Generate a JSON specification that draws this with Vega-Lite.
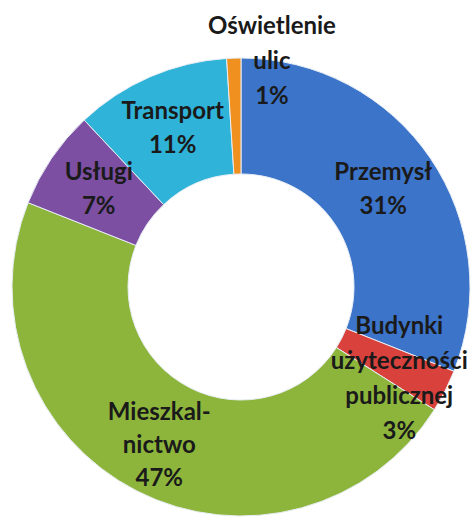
{
  "$schema": "https://vega.github.io/schema/vega-lite/v6.json",
  "width": 458,
  "height": 458,
  "autosize": {"type": "none"},
  "padding": {"left": 12, "top": 58, "right": 3, "bottom": 9},
  "background": "#ffffff",
  "view": {"stroke": null},
  "data": {
    "values": [
      {"kategoria": "Przemysł", "etykieta": "Przemysł\n31%", "udzial": 31, "kolejnosc": 1},
      {"kategoria": "Budynki użyteczności publicznej", "etykieta": "Budynki\nużyteczności\npublicznej\n3%", "udzial": 3, "kolejnosc": 2},
      {"kategoria": "Mieszkalnictwo", "etykieta": "Mieszkal-\nnictwo\n47%", "udzial": 47, "kolejnosc": 3},
      {"kategoria": "Usługi", "etykieta": "Usługi\n7%", "udzial": 7, "kolejnosc": 4},
      {"kategoria": "Transport", "etykieta": "Transport\n11%", "udzial": 11, "kolejnosc": 5},
      {"kategoria": "Oświetlenie ulic", "etykieta": "Oświetlenie\nulic\n1%", "udzial": 1, "kolejnosc": 6}
    ]
  },
  "encoding": {
    "theta": {"field": "udzial", "type": "quantitative", "stack": true},
    "order": {"field": "kolejnosc", "type": "quantitative"}
  },
  "layer": [
    {
      "mark": {"type": "arc", "innerRadius": 113, "stroke": "#e8eef5", "strokeWidth": 1},
      "encoding": {
        "color": {
          "field": "kategoria",
          "type": "nominal",
          "legend": null,
          "scale": {
            "domain": ["Przemysł", "Budynki użyteczności publicznej", "Mieszkalnictwo", "Usługi", "Transport", "Oświetlenie ulic"],
            "range": ["#3C74C9", "#D8413C", "#8DB53C", "#7C4FA2", "#2FB3D8", "#F0901E"]
          }
        }
      }
    },
    {
      "mark": {"type": "text", "radius": 172, "dy": -17, "font": "Lato", "fontWeight": "bold", "fontSize": 24, "lineHeight": 34, "lineBreak": "\n", "color": "#1a1a1a", "align": "center", "baseline": "middle"},
      "encoding": {"text": {"condition": {"test": "datum.kolejnosc == 1 || datum.kolejnosc == 4 || datum.kolejnosc == 5", "field": "etykieta"}, "value": ""}}
    },
    {
      "mark": {"type": "text", "radius": 180, "dy": -34, "font": "Lato", "fontWeight": "bold", "fontSize": 24, "lineHeight": 33, "lineBreak": "\n", "color": "#1a1a1a", "align": "center", "baseline": "middle"},
      "encoding": {"text": {"condition": {"test": "datum.kolejnosc == 3", "field": "etykieta"}, "value": ""}}
    },
    {
      "mark": {"type": "text", "radius": 172, "dx": 5, "dy": -38, "font": "Lato", "fontWeight": "bold", "fontSize": 24, "lineHeight": 35, "lineBreak": "\n", "color": "#1a1a1a", "align": "center", "baseline": "middle"},
      "encoding": {"text": {"condition": {"test": "datum.kolejnosc == 2", "field": "etykieta"}, "value": ""}}
    },
    {
      "mark": {"type": "text", "radius": 225, "dx": 38, "dy": -35, "font": "Lato", "fontWeight": "bold", "fontSize": 24, "lineHeight": 35, "lineBreak": "\n", "color": "#1a1a1a", "align": "center", "baseline": "middle"},
      "encoding": {"text": {"condition": {"test": "datum.kolejnosc == 6", "field": "etykieta"}, "value": ""}}
    }
  ]
}
